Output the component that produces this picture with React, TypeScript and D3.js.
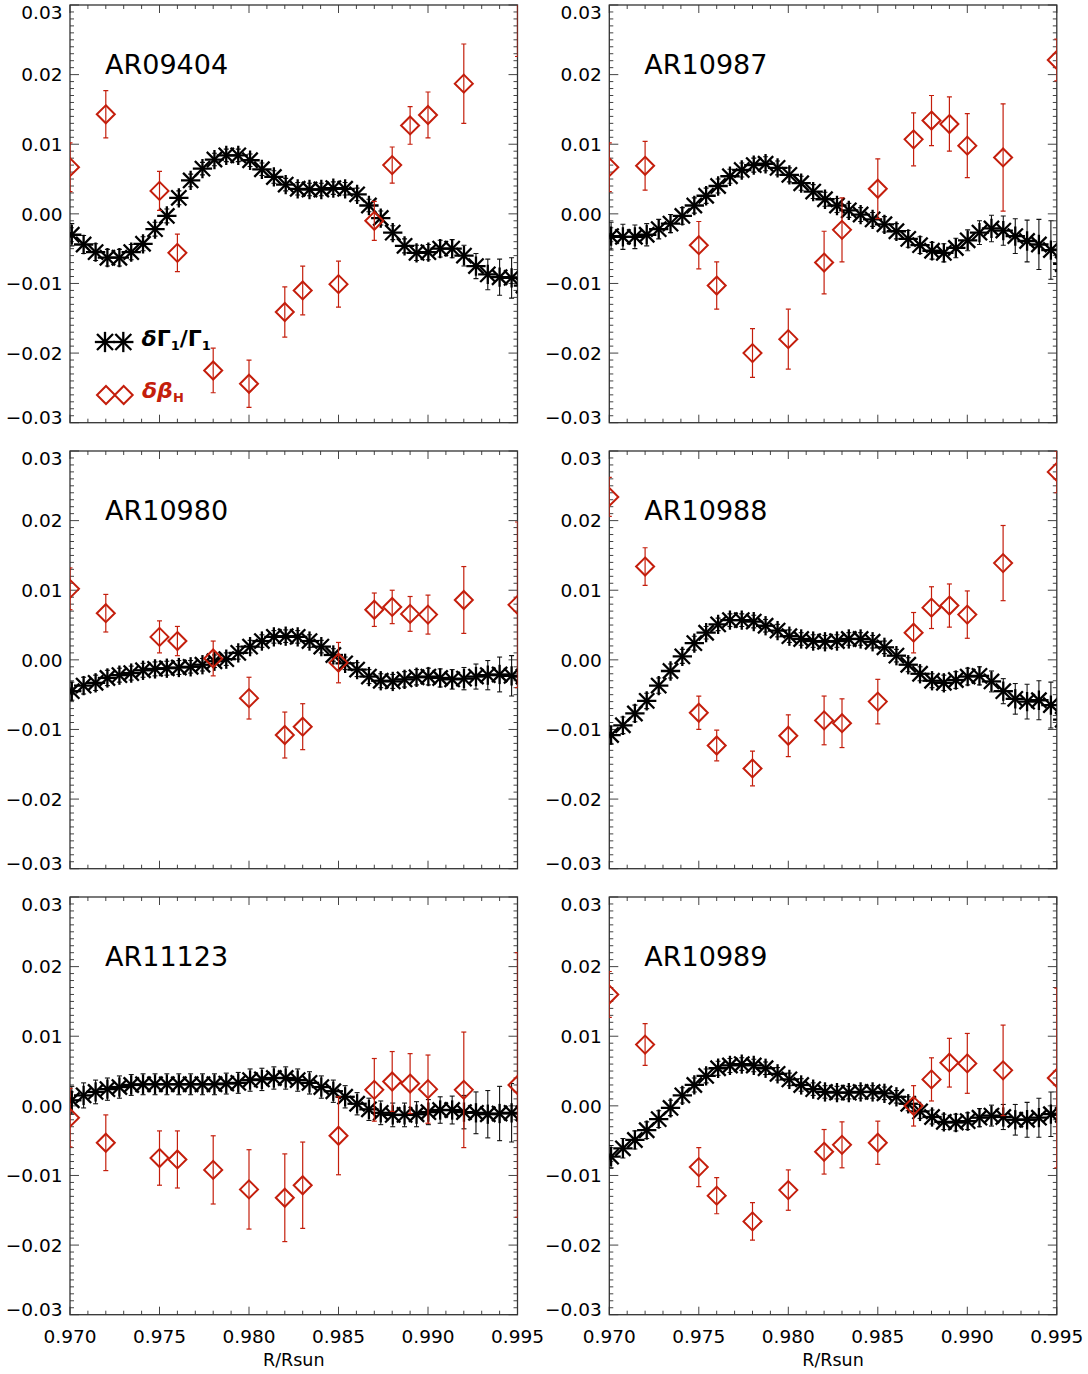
import React from 'react';
import * as d3 from 'd3';

// ---------- data ----------
const RED_R = [0.970, 0.972, 0.975, 0.976, 0.978, 0.980, 0.982, 0.983, 0.985, 0.987, 0.988, 0.989, 0.990, 0.992, 0.995];
const BLACK_R = [0.9701, 0.97076, 0.97143, 0.97209, 0.97276, 0.97342, 0.97408, 0.97475, 0.97541, 0.97608, 0.97674, 0.9774, 0.97807, 0.97873, 0.9794, 0.98006, 0.98072, 0.98139, 0.98205, 0.98272, 0.98338, 0.98404, 0.98471, 0.98537, 0.98604, 0.9867, 0.98736, 0.98803, 0.98869, 0.98936, 0.99002, 0.99068, 0.99135, 0.99201, 0.99268, 0.99334, 0.994, 0.99467, 0.99533];

const X_TICKS = [0.970, 0.975, 0.980, 0.985, 0.990, 0.995];
const Y_TICKS = [-0.03, -0.02, -0.01, 0.0, 0.01, 0.02, 0.03];
const X_LABEL = 'R/Rsun';

const NAMES = ['AR09404', 'AR10987', 'AR10980', 'AR10988', 'AR11123', 'AR10989'];

// AR09404
const G_09404 = [-0.0030, -0.0044, -0.0055, -0.0063, -0.0063, -0.0055, -0.0043, -0.0022, -0.0003, 0.0023, 0.0048, 0.0065, 0.0078, 0.0084, 0.0084, 0.0077, 0.0064, 0.0053, 0.0042, 0.0036, 0.0035, 0.0035, 0.0037, 0.0036, 0.0028, 0.0012, -0.0006, -0.0027, -0.0046, -0.0056, -0.0055, -0.0050, -0.0050, -0.0060, -0.0075, -0.0087, -0.0091, -0.0092, -0.0103];
const GE_09404 = [0.0016, 0.0013, 0.0012, 0.0012, 0.0012, 0.0011, 0.001, 0.001, 0.001, 0.001, 0.0009, 0.0009, 0.0009, 0.0009, 0.0009, 0.0009, 0.0009, 0.0009, 0.0009, 0.0009, 0.0009, 0.0009, 0.0009, 0.0009, 0.0009, 0.0009, 0.001, 0.001, 0.001, 0.0011, 0.0011, 0.0012, 0.0013, 0.0015, 0.0018, 0.0022, 0.0026, 0.0029, 0.0031];
const B_09404 = [0.0067, 0.0143, 0.0033, -0.0056, -0.0225, -0.0244, -0.0141, -0.0110, -0.0101, -0.0010, 0.0070, 0.0127, 0.0142, 0.0187, 0.0322];
const BE_09404 = [0.0035, 0.0034, 0.0028, 0.0027, 0.0032, 0.0034, 0.0036, 0.0035, 0.0033, 0.0028, 0.0026, 0.0027, 0.0033, 0.0057, 0.0096];

// AR10987
const G_10987 = [-0.0032, -0.0033, -0.0033, -0.0030, -0.0022, -0.0014, -0.0003, 0.0012, 0.0026, 0.0040, 0.0054, 0.0063, 0.0070, 0.0072, 0.0066, 0.0056, 0.0044, 0.0032, 0.0021, 0.0012, 0.0005, -0.0001, -0.0008, -0.0015, -0.0025, -0.0036, -0.0045, -0.0053, -0.0056, -0.0049, -0.0038, -0.0027, -0.0021, -0.0024, -0.0032, -0.0039, -0.0044, -0.0052, -0.0072];
const GE_10987 = [0.002, 0.0018, 0.0017, 0.0016, 0.0014, 0.0013, 0.0012, 0.0011, 0.0011, 0.001, 0.001, 0.001, 0.001, 0.001, 0.001, 0.001, 0.001, 0.001, 0.001, 0.001, 0.001, 0.001, 0.001, 0.0011, 0.0011, 0.0012, 0.0012, 0.0012, 0.0013, 0.0014, 0.0015, 0.0017, 0.0019, 0.0021, 0.0025, 0.003, 0.0036, 0.0042, 0.0044];
const B_10987 = [0.0067, 0.0069, -0.0045, -0.0103, -0.0200, -0.0180, -0.0070, -0.0023, 0.0036, 0.0107, 0.0134, 0.0129, 0.0098, 0.0081, 0.0221];
const BE_10987 = [0.0035, 0.0035, 0.0034, 0.0034, 0.0035, 0.0043, 0.0045, 0.0046, 0.0043, 0.0038, 0.0036, 0.0039, 0.0046, 0.0077, 0.0030];

// AR10980
const G_10980 = [-0.0045, -0.0037, -0.0033, -0.0026, -0.0022, -0.0019, -0.0015, -0.0013, -0.0012, -0.0011, -0.0010, -0.0007, -0.0002, 0.0001, 0.0010, 0.0019, 0.0027, 0.0033, 0.0034, 0.0033, 0.0027, 0.0019, 0.0007, -0.0005, -0.0014, -0.0024, -0.0030, -0.0031, -0.0028, -0.0025, -0.0024, -0.0026, -0.0028, -0.0027, -0.0024, -0.0022, -0.0021, -0.0023, -0.0024];
const GE_10980 = [0.0013, 0.0012, 0.0011, 0.0011, 0.001, 0.001, 0.001, 0.001, 0.001, 0.001, 0.0009, 0.0009, 0.0009, 0.0009, 0.0009, 0.0009, 0.0009, 0.0009, 0.0009, 0.0009, 0.0009, 0.0009, 0.0009, 0.0009, 0.001, 0.001, 0.001, 0.001, 0.0011, 0.0011, 0.0012, 0.0013, 0.0014, 0.0016, 0.0018, 0.0021, 0.0025, 0.0029, 0.0031];
const B_10980 = [0.0102, 0.0067, 0.0033, 0.0027, 0.0002, -0.0055, -0.0108, -0.0096, -0.0004, 0.0072, 0.0076, 0.0066, 0.0065, 0.0086, 0.0079];
const BE_10980 = [0.0030, 0.0027, 0.0023, 0.0021, 0.0025, 0.0030, 0.0033, 0.0033, 0.0029, 0.0024, 0.0024, 0.0025, 0.0028, 0.0048, 0.0119];

// AR10988
const G_10988 = [-0.0108, -0.0094, -0.0077, -0.0059, -0.0037, -0.0016, 0.0005, 0.0024, 0.0039, 0.0051, 0.0057, 0.0057, 0.0055, 0.0049, 0.0042, 0.0034, 0.0030, 0.0027, 0.0026, 0.0027, 0.0030, 0.0030, 0.0026, 0.0018, 0.0006, -0.0007, -0.0020, -0.0030, -0.0033, -0.0029, -0.0024, -0.0023, -0.0031, -0.0045, -0.0056, -0.0060, -0.0058, -0.0065, -0.0086];
const GE_10988 = [0.0013, 0.0012, 0.0012, 0.0011, 0.0011, 0.001, 0.001, 0.001, 0.0009, 0.0009, 0.0009, 0.0009, 0.0009, 0.0009, 0.0009, 0.0009, 0.0009, 0.0009, 0.0009, 0.0009, 0.0009, 0.0009, 0.0009, 0.0009, 0.0009, 0.001, 0.001, 0.001, 0.0011, 0.0012, 0.0012, 0.0013, 0.0015, 0.0018, 0.0022, 0.0025, 0.0028, 0.0033, 0.0035];
const B_10988 = [0.0234, 0.0134, -0.0076, -0.0123, -0.0156, -0.0109, -0.0087, -0.0091, -0.0060, 0.0039, 0.0075, 0.0078, 0.0065, 0.0139, 0.0270];
const BE_10988 = [0.0028, 0.0027, 0.0024, 0.0022, 0.0025, 0.0030, 0.0035, 0.0035, 0.0032, 0.0029, 0.0030, 0.0031, 0.0034, 0.0054, 0.0030];

// AR11123
const G_11123 = [0.0008, 0.0015, 0.0020, 0.0024, 0.0027, 0.0030, 0.0031, 0.0031, 0.0031, 0.0031, 0.0031, 0.0031, 0.0031, 0.0032, 0.0033, 0.0037, 0.0038, 0.0040, 0.0040, 0.0037, 0.0033, 0.0027, 0.0021, 0.0013, 0.0003, -0.0005, -0.0010, -0.0013, -0.0013, -0.0012, -0.0009, -0.0006, -0.0006, -0.0009, -0.0010, -0.0012, -0.0011, -0.0010, -0.0011];
const GE_11123 = [0.002, 0.0018, 0.0017, 0.0016, 0.0016, 0.0015, 0.0015, 0.0015, 0.0015, 0.0015, 0.0015, 0.0015, 0.0015, 0.0015, 0.0015, 0.0016, 0.0016, 0.0016, 0.0016, 0.0016, 0.0016, 0.0016, 0.0016, 0.0016, 0.0016, 0.0016, 0.0017, 0.0017, 0.0017, 0.0018, 0.0018, 0.0019, 0.002, 0.0024, 0.003, 0.0034, 0.0039, 0.0042, 0.0043];
const B_11123 = [-0.0017, -0.0053, -0.0075, -0.0077, -0.0092, -0.0120, -0.0132, -0.0114, -0.0043, 0.0023, 0.0035, 0.0032, 0.0024, 0.0023, 0.0030];
const BE_11123 = [0.0042, 0.0040, 0.0039, 0.0041, 0.0049, 0.0057, 0.0063, 0.0062, 0.0056, 0.0045, 0.0043, 0.0043, 0.0049, 0.0083, 0.0190];

// AR10989
const G_10989 = [-0.0073, -0.0061, -0.0049, -0.0035, -0.0019, -0.0003, 0.0015, 0.0030, 0.0043, 0.0054, 0.0058, 0.0060, 0.0058, 0.0054, 0.0046, 0.0038, 0.0030, 0.0024, 0.0020, 0.0019, 0.0019, 0.0020, 0.0020, 0.0018, 0.0013, 0.0003, -0.0008, -0.0016, -0.0023, -0.0024, -0.0022, -0.0017, -0.0014, -0.0016, -0.0020, -0.0020, -0.0017, -0.0012, -0.0013];
const GE_10989 = [0.0016, 0.0014, 0.0013, 0.0012, 0.0012, 0.0011, 0.0011, 0.001, 0.001, 0.001, 0.001, 0.0009, 0.0009, 0.0009, 0.0009, 0.0009, 0.0009, 0.0009, 0.0009, 0.0009, 0.0009, 0.0009, 0.0009, 0.0009, 0.0009, 0.001, 0.001, 0.001, 0.0011, 0.0012, 0.0012, 0.0013, 0.0015, 0.0018, 0.0022, 0.0025, 0.0028, 0.0032, 0.0034];
const B_10989 = [0.0160, 0.0088, -0.0088, -0.0129, -0.0166, -0.0121, -0.0066, -0.0056, -0.0053, 0.0000, 0.0038, 0.0062, 0.0061, 0.0051, 0.0040];
const BE_10989 = [0.0033, 0.0030, 0.0028, 0.0026, 0.0027, 0.0029, 0.0032, 0.0033, 0.0031, 0.0029, 0.0031, 0.0035, 0.0043, 0.0065, 0.0129];

const PANELS = [
  { name: NAMES[0], g: G_09404, ge: GE_09404, b: B_09404, be: BE_09404 },
  { name: NAMES[1], g: G_10987, ge: GE_10987, b: B_10987, be: BE_10987 },
  { name: NAMES[2], g: G_10980, ge: GE_10980, b: B_10980, be: BE_10980 },
  { name: NAMES[3], g: G_10988, ge: GE_10988, b: B_10988, be: BE_10988 },
  { name: NAMES[4], g: G_11123, ge: GE_11123, b: B_11123, be: BE_11123 },
  { name: NAMES[5], g: G_10989, ge: GE_10989, b: B_10989, be: BE_10989 },
];

// ---------- layout ----------
const WIDTH = 1088;
const HEIGHT = 1374;
const COL_X = [70, 609.3];
const ROW_Y = [5, 451, 897];
const PW = 447.5;
const PH = 417.7;
const RED = '#c41e0c';
const FRAME = '#333';
const FONT = "'DejaVu Sans', sans-serif";

const xScale = d3.scaleLinear().domain([0.970, 0.995]).range([0, PW]);
const yScale = d3.scaleLinear().domain([-0.03, 0.03]).range([PH, 0]);

function fmtY(v: number) {
  const s = Math.abs(v).toFixed(2);
  return v < -1e-9 ? '\u2212' + s : s;
}

function Asterisk({ x, y, r = 8.5 }: { x: number; y: number; r?: number }) {
  const d = r * 0.8;
  return (
    <g stroke="#000" strokeWidth={2.3} strokeLinecap="square">
      <line x1={x - r} y1={y} x2={x + r} y2={y} />
      <line x1={x} y1={y - r} x2={x} y2={y + r} />
      <line x1={x - d} y1={y - d} x2={x + d} y2={y + d} />
      <line x1={x - d} y1={y + d} x2={x + d} y2={y - d} />
    </g>
  );
}

function Diamond({ x, y }: { x: number; y: number }) {
  const r = 9;
  return (
    <path
      d={`M${x},${y - r}L${x + r},${y}L${x},${y + r}L${x - r},${y}Z`}
      fill="none"
      stroke={RED}
      strokeWidth={2}
    />
  );
}

function Panel({ idx }: { idx: number }) {
  const p = PANELS[idx];
  const col = idx % 2;
  const row = Math.floor(idx / 2);
  const ox = COL_X[col];
  const oy = ROW_Y[row];
  const clipId = `clip${idx}`;
  const minorX = d3.range(0, 26).map((i) => 0.970 + i * 0.001);
  const minorY = d3.range(0, 61).map((i) => -0.03 + i * 0.001);
  const bottom = row === 2;

  return (
    <g transform={`translate(${ox},${oy})`}>
      <defs>
        <clipPath id={clipId}>
          <rect x={0} y={0} width={PW} height={PH} />
        </clipPath>
      </defs>
      <g stroke="#444" strokeWidth={1}>
        {minorX.map((v, i) => {
          const major = i % 5 === 0;
          const len = major ? 8 : 4;
          const x = xScale(v);
          return (
            <g key={'x' + i}>
              <line x1={x} y1={PH} x2={x} y2={PH - len} />
              <line x1={x} y1={0} x2={x} y2={len} />
            </g>
          );
        })}
        {minorY.map((v, i) => {
          const major = i % 10 === 0;
          const len = major ? 9 : 4;
          const y = yScale(v);
          return (
            <g key={'y' + i}>
              <line x1={0} y1={y} x2={len} y2={y} />
              <line x1={PW} y1={y} x2={PW - len} y2={y} />
            </g>
          );
        })}
      </g>
      <rect x={0} y={0} width={PW} height={PH} fill="none" stroke={FRAME} strokeWidth={1.3} />
      {Y_TICKS.map((v, i) => {
        let y = yScale(v);
        if (i === Y_TICKS.length - 1) y += 7.7;
        if (i === 0) y -= 5;
        return (
          <text key={'yl' + i} x={-7.5} y={y} dy="0.36em" textAnchor="end" fontFamily={FONT} fontSize={18.5} fill="#000">
            {fmtY(v)}
          </text>
        );
      })}
      {bottom &&
        X_TICKS.map((v, i) => (
          <text key={'xl' + i} x={xScale(v)} y={PH + 28.5} textAnchor="middle" fontFamily={FONT} fontSize={18.5} fill="#000">
            {v.toFixed(3)}
          </text>
        ))}
      {bottom && (
        <text x={PW / 2} y={PH + 51} textAnchor="middle" fontFamily={FONT} fontSize={17.5} fill="#000">
          {X_LABEL}
        </text>
      )}
      <text x={35} y={69} fontFamily={FONT} fontSize={27} fill="#000">
        {p.name}
      </text>
      <g clipPath={`url(#${clipId})`}>
        <g stroke="#111" strokeWidth={1.1}>
          {BLACK_R.map((r, i) => {
            const x = xScale(r);
            const y1 = yScale(p.g[i] + p.ge[i]);
            const y2 = yScale(p.g[i] - p.ge[i]);
            return (
              <g key={'be' + i}>
                <line x1={x} y1={y1} x2={x} y2={y2} />
                <line x1={x - 2.5} y1={y1} x2={x + 2.5} y2={y1} />
                <line x1={x - 2.5} y1={y2} x2={x + 2.5} y2={y2} />
              </g>
            );
          })}
        </g>
        {BLACK_R.map((r, i) => (
          <Asterisk key={'a' + i} x={xScale(r)} y={yScale(p.g[i])} />
        ))}
        <g stroke={RED} strokeWidth={1.2}>
          {RED_R.map((r, i) => {
            const x = xScale(r);
            const y1 = yScale(p.b[i] + p.be[i]);
            const y2 = yScale(p.b[i] - p.be[i]);
            return (
              <g key={'re' + i}>
                <line x1={x} y1={y1} x2={x} y2={y2} />
                <line x1={x - 2.5} y1={y1} x2={x + 2.5} y2={y1} />
                <line x1={x - 2.5} y1={y2} x2={x + 2.5} y2={y2} />
              </g>
            );
          })}
        </g>
        {RED_R.map((r, i) => (
          <Diamond key={'d' + i} x={xScale(r)} y={yScale(p.b[i])} />
        ))}
      </g>
      {idx === 0 && (
        <g>
          <Asterisk x={35} y={337} r={9} />
          <Asterisk x={53.3} y={337} r={9} />
          <text x={71.5} y={341} fontFamily={FONT} fontSize={22} fontWeight="bold" fill="#000">
            <tspan fontStyle="italic">δ</tspan>Γ<tspan fontSize={13} dy={4}>1</tspan>
            <tspan dy={-4}>/Γ</tspan>
            <tspan fontSize={13} dy={4}>1</tspan>
          </text>
          <Diamond x={36} y={390} />
          <Diamond x={53.7} y={390} />
          <text x={72} y={393} fontFamily={FONT} fontSize={22} fontWeight="bold" fontStyle="italic" fill={RED}>
            δβ<tspan fontSize={13} dy={4} fontStyle="normal">H</tspan>
          </text>
        </g>
      )}
    </g>
  );
}

export default function App() {
  return (
    <div style={{ position: 'absolute', left: 0, top: 0 }}>
      <svg width={WIDTH} height={HEIGHT} viewBox={`0 0 ${WIDTH} ${HEIGHT}`} style={{ display: 'block', background: '#fff' }}>
        <rect x={0} y={0} width={WIDTH} height={HEIGHT} fill="#fff" />
        {PANELS.map((_, i) => (
          <Panel key={i} idx={i} />
        ))}
      </svg>
    </div>
  );
}
